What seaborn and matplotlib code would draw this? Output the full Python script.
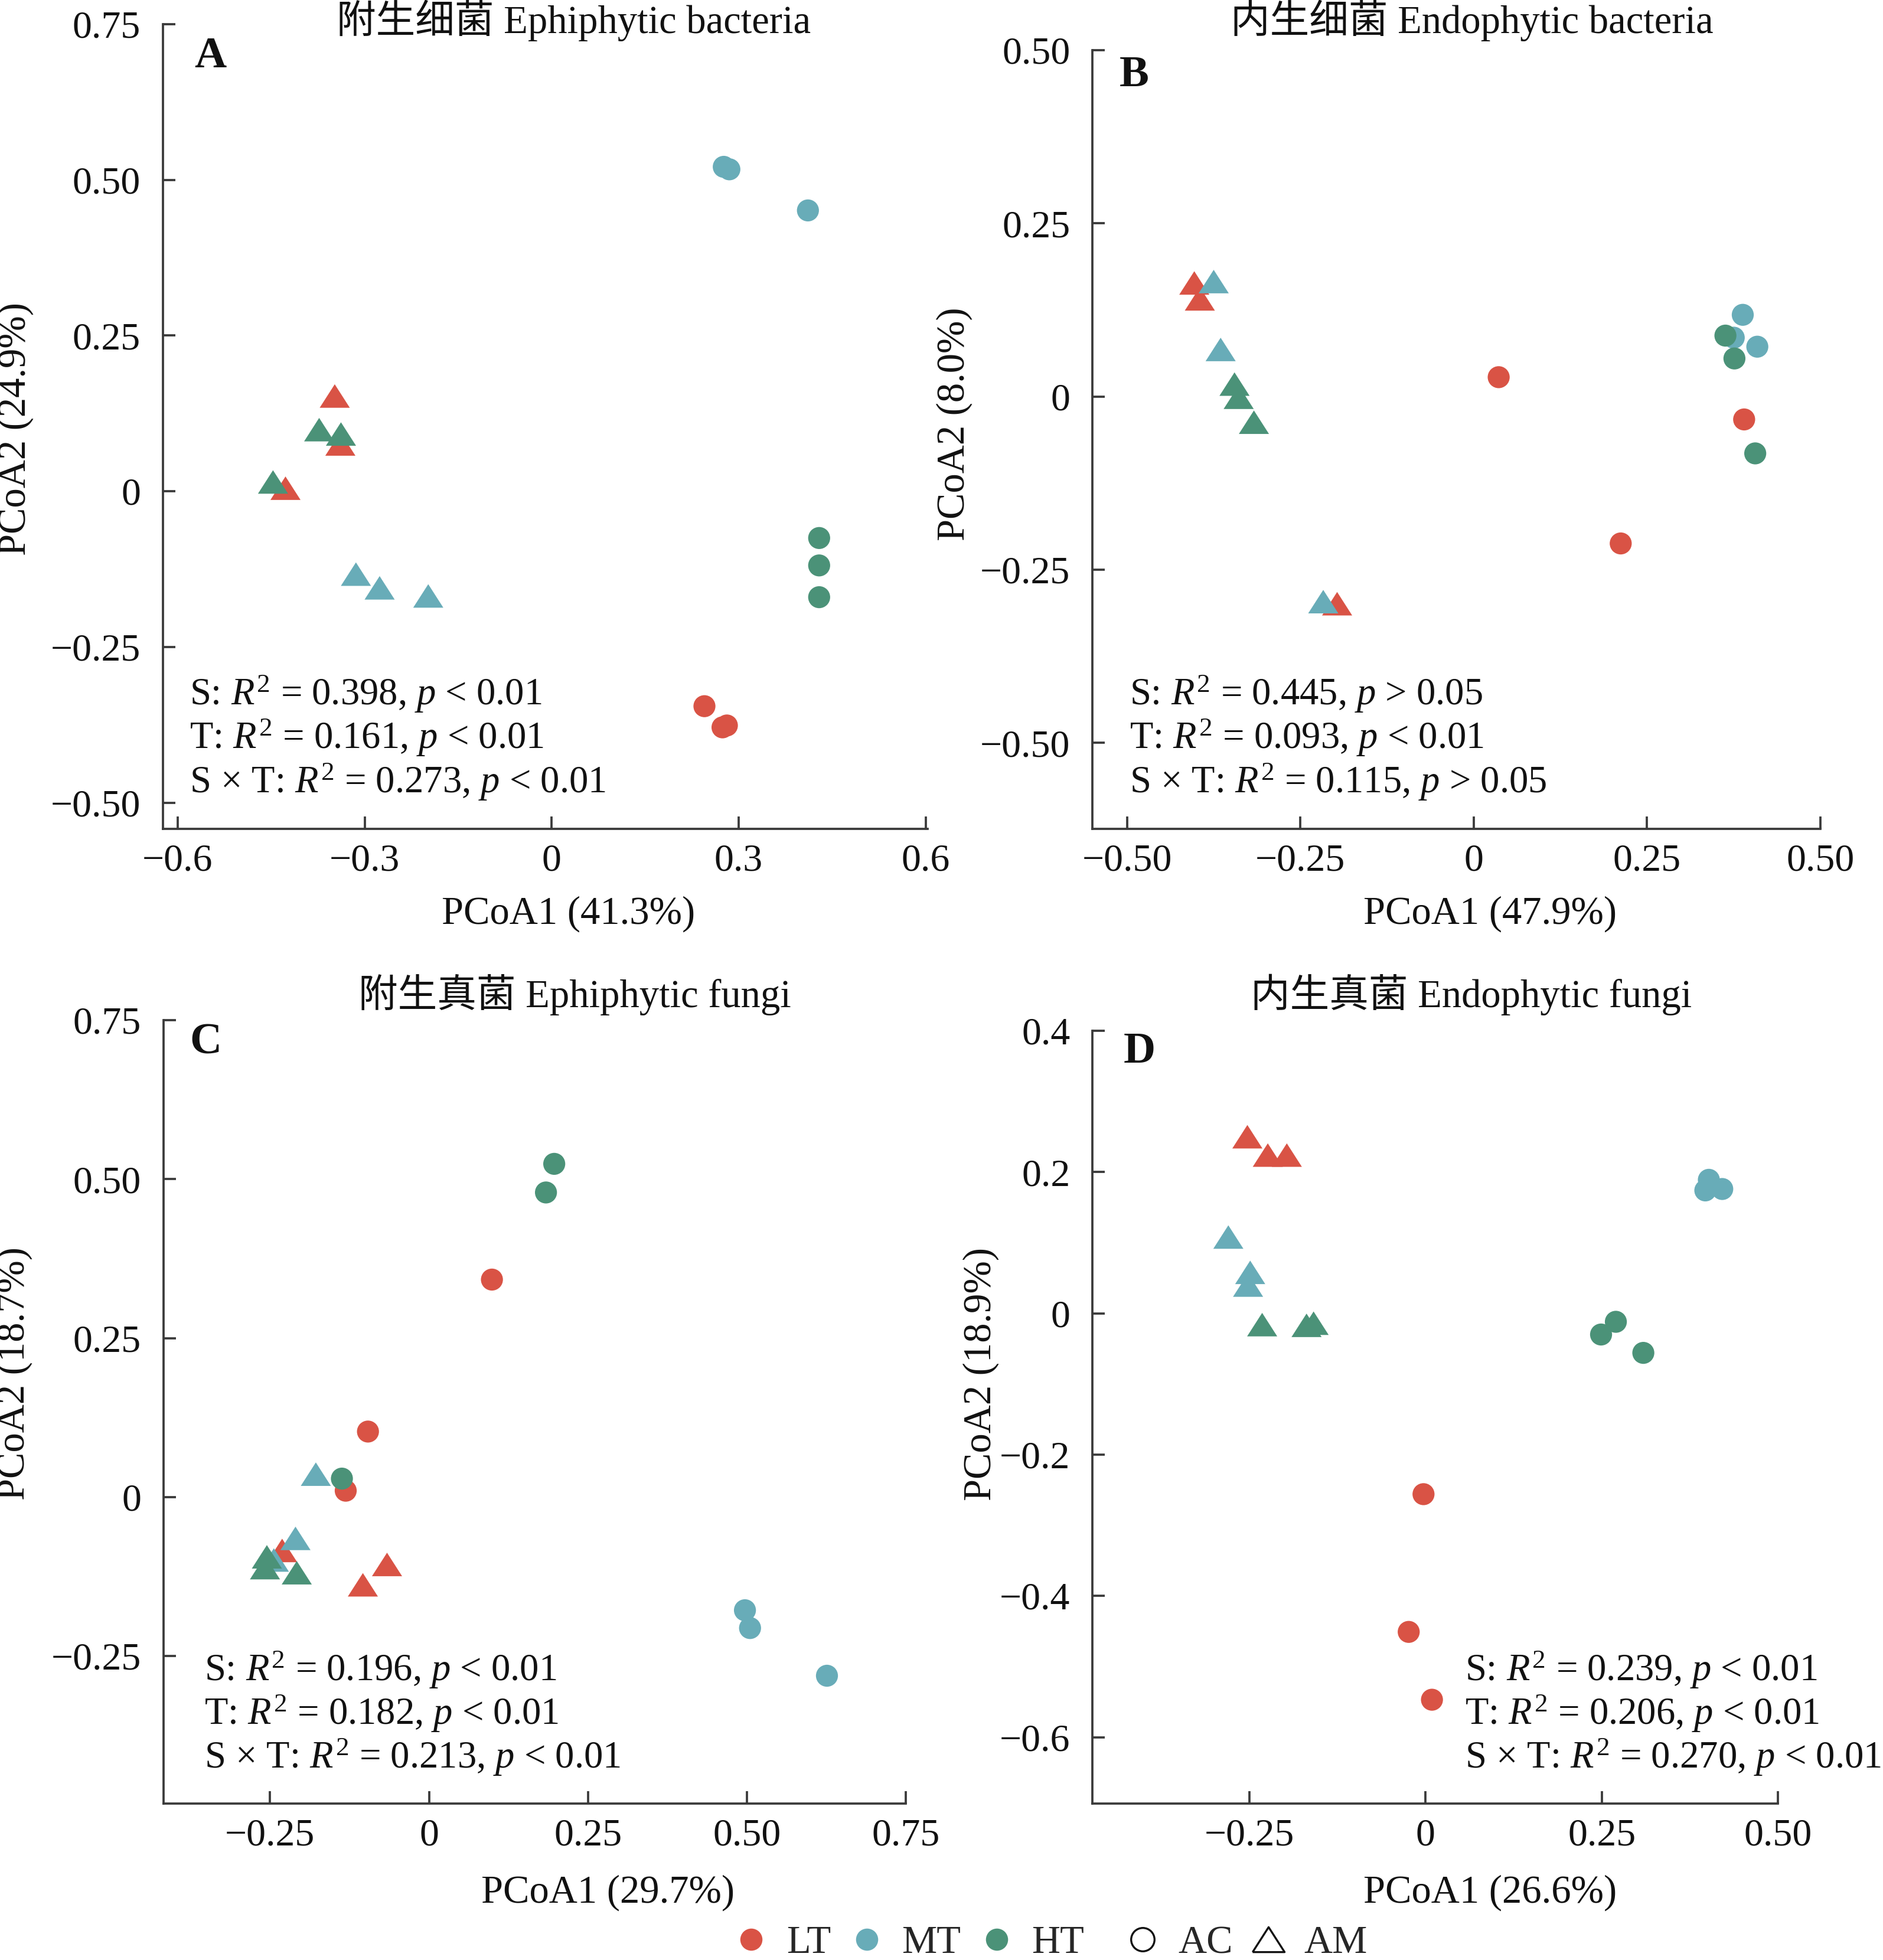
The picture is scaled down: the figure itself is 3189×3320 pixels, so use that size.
import pandas as pd
import seaborn as sns
import matplotlib.pyplot as plt
from matplotlib.lines import Line2D

sns.set_style("ticks")
plt.rcParams['font.family'] = ['Liberation Serif', 'Noto Sans CJK SC']
plt.rcParams['mathtext.fontset'] = 'custom'
plt.rcParams['mathtext.rm'] = 'Liberation Serif'
plt.rcParams['mathtext.it'] = 'Liberation Serif:italic'
plt.rcParams['axes.unicode_minus'] = True

W, H, DPI = 3189, 3320, 300

# sample labels (same order for all panels)
temp = ['LT', 'LT', 'LT', 'MT', 'MT', 'MT', 'HT', 'HT', 'HT',
        'LT', 'LT', 'LT', 'MT', 'MT', 'MT', 'HT', 'HT', 'HT']
shape = ['AC'] * 9 + ['AM'] * 9

# A: epiphytic bacteria
a_x = [0.245, 0.274, 0.281, 0.276, 0.285, 0.411, 0.429, 0.429, 0.429,
       -0.348, -0.339, -0.427, -0.314, -0.276, -0.198, -0.373, -0.338, -0.447]
a_y = [-0.345, -0.379, -0.376, 0.521, 0.517, 0.451, -0.075, -0.119, -0.170,
       0.153, 0.076, 0.005, -0.133, -0.155, -0.168, 0.099, 0.092, 0.015]
# B: endophytic bacteria
b_x = [0.036, 0.212, 0.390, 0.388, 0.375, 0.409, 0.363, 0.376, 0.406,
       -0.403, -0.395, -0.197, -0.375, -0.365, -0.217, -0.345, -0.339, -0.317]
b_y = [0.028, -0.212, -0.033, 0.118, 0.085, 0.072, 0.088, 0.055, -0.082,
       0.164, 0.141, -0.299, 0.166, 0.068, -0.296, 0.018, -0.001, -0.037]
# C: epiphytic fungi
c_x = [0.099, -0.096, -0.131, 0.497, 0.505, 0.626, 0.197, 0.184, -0.137,
       -0.231, -0.066, -0.104, -0.178, -0.210, -0.244, -0.255, -0.258, -0.208]
c_y = [0.342, 0.103, 0.010, -0.178, -0.206, -0.281, 0.524, 0.479, 0.029,
       -0.084, -0.106, -0.138, 0.036, -0.065, -0.099, -0.094, -0.111, -0.119]
# D: endophytic fungi
d_x = [-0.003, -0.024, 0.009, 0.402, 0.397, 0.421, 0.249, 0.270, 0.309,
       -0.253, -0.224, -0.197, -0.280, -0.249, -0.252, -0.232, -0.169, -0.159]
d_y = [-0.256, -0.451, -0.547, 0.189, 0.174, 0.176, -0.030, -0.012, -0.056,
       0.250, 0.224, 0.224, 0.108, 0.058, 0.040, -0.016, -0.017, -0.014]

titles = ['附生细菌 Ephiphytic bacteria', '内生细菌 Endophytic bacteria',
          '附生真菌 Ephiphytic fungi', '内生真菌 Endophytic fungi']
letters = ['A', 'B', 'C', 'D']
xlabels = ['PCoA1 (41.3%)', 'PCoA1 (47.9%)', 'PCoA1 (29.7%)', 'PCoA1 (26.6%)']
ylabels = ['PCoA2 (24.9%)', 'PCoA2 (8.0%)', 'PCoA2 (18.7%)', 'PCoA2 (18.9%)']
stats = [
    ['S: $R^2$ = 0.398, $p$ < 0.01', 'T: $R^2$ = 0.161, $p$ < 0.01', 'S × T: $R^2$ = 0.273, $p$ < 0.01'],
    ['S: $R^2$ = 0.445, $p$ > 0.05', 'T: $R^2$ = 0.093, $p$ < 0.01', 'S × T: $R^2$ = 0.115, $p$ > 0.05'],
    ['S: $R^2$ = 0.196, $p$ < 0.01', 'T: $R^2$ = 0.182, $p$ < 0.01', 'S × T: $R^2$ = 0.213, $p$ < 0.01'],
    ['S: $R^2$ = 0.239, $p$ < 0.01', 'T: $R^2$ = 0.206, $p$ < 0.01', 'S × T: $R^2$ = 0.270, $p$ < 0.01'],
]
xticks = [[-0.6, -0.3, 0, 0.3, 0.6], [-0.5, -0.25, 0, 0.25, 0.5],
          [-0.25, 0, 0.25, 0.5, 0.75], [-0.25, 0, 0.25, 0.5]]
xticklabels = [['−0.6', '−0.3', '0', '0.3', '0.6'], ['−0.50', '−0.25', '0', '0.25', '0.50'],
               ['−0.25', '0', '0.25', '0.50', '0.75'], ['−0.25', '0', '0.25', '0.50']]
yticks = [[-0.5, -0.25, 0, 0.25, 0.5, 0.75], [-0.5, -0.25, 0, 0.25, 0.5],
          [-0.25, 0, 0.25, 0.5, 0.75], [-0.6, -0.4, -0.2, 0, 0.2, 0.4]]
yticklabels = [['−0.50', '−0.25', '0', '0.25', '0.50', '0.75'], ['−0.50', '−0.25', '0', '0.25', '0.50'],
               ['−0.25', '0', '0.25', '0.50', '0.75'], ['−0.6', '−0.4', '−0.2', '0', '0.2', '0.4']]

palette = {'LT': '#d95345', 'MT': '#68acb8', 'HT': '#4b9278'}
tri = [(-1, -0.78), (1, -0.78), (0, 0.78), (-1, -0.78)]
edge = '#3a3a3a'
ink = '#111111'

# layout in pixels of the reference
ax_px = [(275.5, 41, 1571, 1404), (1850, 85, 3083, 1404),
         (276.5, 1728, 1534, 3055), (1850, 1746, 3011, 3055)]
lims = [((-0.624, 0.603), (-0.542, 0.75)), ((-0.55, 0.5), (-0.624, 0.5)),
        ((-0.418, 0.75), (-0.482, 0.75)), ((-0.473, 0.5), (-0.694, 0.4))]
title_px = [(972, 56), (2493, 56), (973, 1706), (2492, 1706)]
letter_px = [(329, 114), (1896, 146), (321, 1784), (1903, 1800)]
stats_px = [(321, [1194, 1268, 1343]), (1913, [1194, 1268, 1343]),
            (346, [2847, 2921, 2995]), (2481, [2847, 2921, 2995])]
xlab_pos = [(0.53, -0.083), (0.546, -0.086), (0.599, -0.091), (0.58, -0.092)]
ylab_pos = [(-0.169, 0.497), (-0.165, 0.52), (-0.176, 0.549), (-0.136, 0.556)]

fig = plt.figure(figsize=(W / DPI, H / DPI), dpi=DPI)

for i, (xs, ys) in enumerate([(a_x, a_y), (b_x, b_y), (c_x, c_y), (d_x, d_y)]):
    l, t, r, b = ax_px[i]
    ax = fig.add_axes([l / W, 1 - b / H, (r - l) / W, (b - t) / H])
    df = pd.DataFrame({'x': xs, 'y': ys, 'temp': temp, 'shape': shape})
    sns.scatterplot(data=df, x='x', y='y', hue='temp', hue_order=['LT', 'MT', 'HT'],
                    style='shape', markers={'AC': 'o', 'AM': tri},
                    size='shape', sizes={'AC': 80, 'AM': 150},
                    palette=palette, linewidth=0, alpha=1, legend=False, ax=ax)
    ax.set_xlim(*lims[i][0])
    ax.set_ylim(*lims[i][1])
    ax.set_xticks(xticks[i])
    ax.set_xticklabels(xticklabels[i])
    ax.set_yticks(yticks[i])
    ax.set_yticklabels(yticklabels[i])
    sns.despine(ax=ax)
    for s in ['left', 'bottom']:
        ax.spines[s].set_color(edge)
        ax.spines[s].set_linewidth(0.9)
    ax.tick_params(axis='both', direction='in', length=5, width=0.9, color=edge,
                   labelsize=15.8, labelcolor=ink)
    ax.tick_params(axis='x', pad=6)
    ax.tick_params(axis='y', pad=9)
    ax.set_xlabel(xlabels[i], fontsize=16, color=ink)
    ax.set_ylabel(ylabels[i], fontsize=16, color=ink)
    ax.xaxis.set_label_coords(*xlab_pos[i])
    ax.yaxis.set_label_coords(*ylab_pos[i])

    fig.text(title_px[i][0] / W, 1 - title_px[i][1] / H, titles[i], ha='center',
             va='baseline', fontsize=16, color=ink)
    fig.text(letter_px[i][0] / W, 1 - letter_px[i][1] / H, letters[i], ha='left',
             va='baseline', fontsize=18, fontweight='bold', color=ink)
    sx, sys_ = stats_px[i]
    for line, yy in zip(stats[i], sys_):
        fig.text(sx / W, 1 - yy / H, line, ha='left', va='baseline',
                 fontsize=15.5, color=ink)

# legends at the bottom
temp_handles = [Line2D([], [], ls='', marker='o', markersize=9, color=palette[k],
                       markeredgewidth=0, label=k) for k in ['LT', 'MT', 'HT']]
shape_handles = [Line2D([], [], ls='', marker='o', markersize=9.5, markerfacecolor='white',
                        markeredgecolor=ink, markeredgewidth=0.8, label='AC'),
                 Line2D([], [], ls='', marker=tri, markersize=13, markerfacecolor='white',
                        markeredgecolor=ink, markeredgewidth=0.8, label='AM')]
fig.legend(handles=temp_handles, loc='center', ncol=3, frameon=False,
           bbox_to_anchor=(1541 / W, 1 - 3292 / H), fontsize=16,
           handletextpad=0.5, columnspacing=0.5, handlelength=0.8)
fig.legend(handles=shape_handles, loc='center', ncol=2, frameon=False,
           bbox_to_anchor=(2112 / W, 1 - 3292 / H), fontsize=16,
           handletextpad=0.5, columnspacing=0.5, handlelength=0.8)

fig.savefig('out.png', dpi=DPI)
